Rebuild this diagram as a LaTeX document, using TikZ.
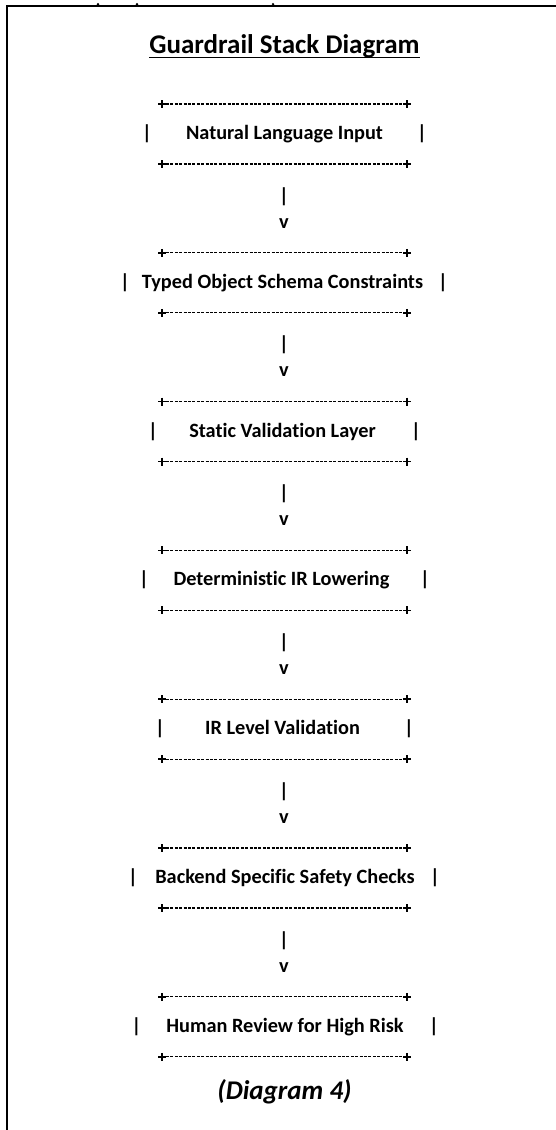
\documentclass[tikz,border=0pt]{standalone}
\usepackage{fontspec}
\setmainfont[Ligatures=NoCommon]{Carlito}
\begin{document}
\begin{tikzpicture}[x=1pt,y=-1pt,
  rowtext/.style={font=\bfseries\fontsize{20.3}{24}\selectfont, inner sep=0pt, anchor=base},
  titletext/.style={font=\bfseries\fontsize{27}{32}\selectfont, inner sep=0pt, anchor=base},
  captext/.style={font=\bfseries\itshape\fontsize{27}{32}\selectfont, inner sep=0pt, anchor=base},
  rulepart/.style={line width=1.1pt, dash pattern=on 3pt off 1.4pt},
  pluspart/.style={line width=1.6pt},
  framepart/.style={line width=2pt}]
\useasboundingbox (0,0) rectangle (556,1130);
\fill[white] (0,0) rectangle (556,1130);
% frame
\draw[framepart] (6.5,1130) -- (6.5,5.5) -- (556,5.5);
\foreach \tx in {98,137,273} \fill (\tx,4.2) circle (1.3);
% title
\node[titletext] (title) at (284.5,53) {Guardrail Stack Diagram};
\draw[line width=1.3pt] ([yshift=-4.5pt]title.base west) -- ([yshift=-4.5pt]title.base east);
% rows
\foreach \k/\lab/\lp/\rp/\cx in {
  0/Natural Language Input/147/422/284.5,
  1/Typed Object Schema Constraints/125/443/282.5,
  2/Static Validation Layer/153/416/282.5,
  3/Deterministic IR Lowering/144/425/281.5,
  4/IR Level Validation/160/409/282.5,
  5/Backend Specific Safety Checks/133/435/285,
  6/Human Review for High Risk/136.5/434/285} {
  \pgfmathsetmacro{\bot}{164+148.8*\k}
  \pgfmathsetmacro{\top}{\bot-60}
  \pgfmathsetmacro{\base}{\bot-24.5}
  \foreach \yy in {\top,\bot} {
    \draw[rulepart] (166,\yy) -- (404,\yy);
    \draw[pluspart] (158,\yy) -- (166,\yy) (162,\yy-4) -- (162,\yy+4);
    \draw[pluspart] (403,\yy) -- (411,\yy) (407,\yy-4) -- (407,\yy+4);
  }
  \node[rowtext] (box\k) at (\cx,\base) {\lab};
  \node[rowtext] (lpipe\k) at (\lp,\base) {|};
  \node[rowtext] (rpipe\k) at (\rp,\base) {|};
}
% arrows between blocks
\foreach \k in {0,...,5} {
  \pgfmathsetmacro{\bot}{164+148.8*\k}
  \node[rowtext] (bar\k) at (284,\bot+38) {|};
  \node[rowtext] (vee\k) at (284,\bot+64) {v};
}
\node[captext] (cap) at (284.5,1099) {(Diagram 4)};
\end{tikzpicture}
\end{document}
